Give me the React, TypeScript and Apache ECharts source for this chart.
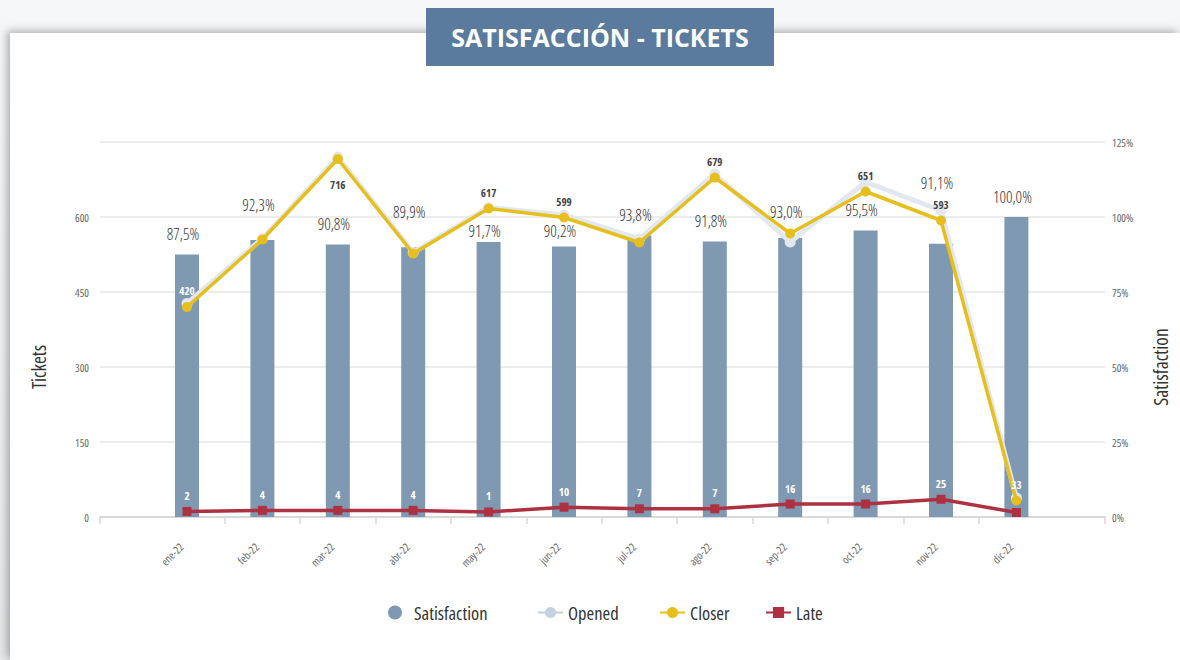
import React, { useEffect, useRef } from "react";
import * as echarts from "echarts";

// ---- data ----
const months = ["ene-22", "feb-22", "mar-22", "abr-22", "may-22", "jun-22", "jul-22", "ago-22", "sep-22", "oct-22", "nov-22", "dic-22"];
const satisfaction = [87.5, 92.3, 90.8, 89.9, 91.7, 90.2, 93.8, 91.8, 93.0, 95.5, 91.1, 100.0];
const opened = [427, 557, 720, 529, 619, 604, 556, 686, 550, 670, 613, 38];
const closer = [420, 555, 716, 527, 617, 599, 549, 679, 567, 651, 593, 33];
const late = [2, 4, 4, 4, 1, 10, 7, 7, 16, 16, 25, 0];

const ticketAxisMax = 750;
const ticketAxisStep = 150;
const satAxisMax = 125;
const satAxisStep = 25;

// label layout (not data)
const closerLabelHidden = ["feb-22", "abr-22", "jul-22", "sep-22"];
const closerLabelBelow = ["mar-22"];
const lateLabelHidden = ["dic-22"];
const satLabelNudge = [0, 14.5, 0, 14.5, -9.3, -5.5, 0, 0, 5.8, 0, 40.5, 0];

const FONT = "'Open Sans', sans-serif";
const C_BAR = "#7f99b3";
const C_OPEN = "#e2e8f0";
const C_CLOSE = "#e6bf1d";
const C_LATE = "#ad3140";

// plot geometry
const DATA_LEFT = 149.3;
const DATA_RIGHT_EDGE = 1054.1;
const BAND = (DATA_RIGHT_EDGE - DATA_LEFT) / months.length;

export default function App() {
  const ref = useRef<HTMLDivElement>(null);

  useEffect(() => {
    if (!ref.current) return;
    const chart = echarts.init(ref.current, null, { renderer: "svg" });

    const closerData = closer.map((v, i) => {
      const m = months[i];
      const below = closerLabelBelow.includes(m);
      const insideBar = !below && v + 34 < (satisfaction[i] / 100) * 600;
      return {
        value: v,
        label: {
          show: !closerLabelHidden.includes(m),
          position: below ? "bottom" : "top",
          distance: below ? 14 : 5,
          color: insideBar ? "#ffffff" : "#444444",
        },
      };
    });

    const lateData = late.map((v, i) => ({
      value: v,
      label: { show: !lateLabelHidden.includes(months[i]) },
    }));

    const satData = satisfaction.map((v, i) => ({
      value: v,
      label: { offset: [-4, -satLabelNudge[i]] },
    }));

    const legendBase = {
      top: 598,
      itemWidth: 25,
      itemHeight: 14,
      textStyle: { fontFamily: FONT, fontSize: 18.5, fontWeight: 400, color: "#333" },
      selectedMode: false,
    };

    const tickBoundaries = months.slice(1).map(() => "");

    const option: any = {
      animation: false,
      textStyle: { fontFamily: FONT },
      graphic: [
        {
          type: "rect",
          shape: { x: 426, y: 8, width: 348, height: 58 },
          style: { fill: "#5a7b9d" },
          z: 100,
        },
        {
          type: "text",
          x: 600,
          y: 37,
          style: {
            text: "SATISFACCIÓN - TICKETS",
            fill: "#ffffff",
            font: "bold 25px 'Open Sans', sans-serif",
            textAlign: "center",
            textVerticalAlign: "middle",
          },
          z: 101,
        },
      ],
      legend: [
        { ...legendBase, left: 383, itemWidth: 28, data: [{ name: "Satisfaction", icon: "circle" }] },
        { ...legendBase, left: 532, data: [{ name: "Opened", itemStyle: { color: "#c3d1e0" }, lineStyle: { color: "#c3d1e0" } }] },
        { ...legendBase, left: 654, data: ["Closer"] },
        { ...legendBase, left: 760, data: ["Late"] },
      ],
      grid: [
        { left: 100, right: 75, top: 142, bottom: 143 },
        { left: DATA_LEFT, right: 1180 - DATA_RIGHT_EDGE, top: 142, bottom: 143 },
        { left: DATA_LEFT + BAND, right: 1180 - (DATA_RIGHT_EDGE - BAND), top: 142, bottom: 143 },
      ],
      xAxis: [
        {
          gridIndex: 0,
          type: "value",
          min: 0,
          max: 1,
          interval: 1,
          axisLine: { show: true, lineStyle: { color: "#d8d8d8", width: 2 } },
          axisTick: { show: true, length: 7, lineStyle: { color: "#d8d8d8", width: 1.5 } },
          axisLabel: { show: false },
          splitLine: { show: false },
        },
        {
          gridIndex: 1,
          type: "category",
          data: months,
          axisLine: { show: false },
          axisTick: { show: false },
          axisLabel: { rotate: 45, fontSize: 11, color: "#666", margin: 22, padding: [0, 8, 0, 0], fontFamily: FONT },
        },
        {
          gridIndex: 2,
          type: "category",
          boundaryGap: false,
          data: tickBoundaries,
          axisLine: { show: false },
          axisTick: { show: true, length: 7, interval: 0, lineStyle: { color: "#d8d8d8", width: 1.5 } },
          axisLabel: { show: false },
        },
      ],
      yAxis: [
        {
          gridIndex: 0,
          type: "value",
          position: "left",
          min: 0,
          max: ticketAxisMax,
          interval: ticketAxisStep,
          name: "Tickets",
          nameLocation: "middle",
          nameGap: 52,
          nameTextStyle: { fontSize: 19, fontWeight: 400, color: "#333", fontFamily: FONT, padding: [0, 75, 0, 0] },
          axisLabel: { color: "#666", fontSize: 11, margin: 11, fontFamily: FONT, showMaxLabel: false },
          axisLine: { show: false },
          axisTick: { show: false },
          splitLine: { lineStyle: { color: "#ececec", width: 2 } },
        },
        {
          gridIndex: 0,
          type: "value",
          position: "right",
          min: 0,
          max: satAxisMax,
          interval: satAxisStep,
          name: "Satisfaction",
          nameLocation: "middle",
          nameGap: 42,
          nameTextStyle: { fontSize: 19.5, fontWeight: 400, color: "#333", fontFamily: FONT, padding: [0, 75, 0, 0] },
          axisLabel: { color: "#666", fontSize: 11, margin: 7, formatter: "{value}%", fontFamily: FONT },
          axisLine: { show: false },
          axisTick: { show: false },
          splitLine: { show: false },
        },
        { gridIndex: 1, type: "value", min: 0, max: ticketAxisMax, show: false },
        { gridIndex: 1, type: "value", min: 0, max: satAxisMax, show: false },
        { gridIndex: 1, type: "value", min: -8.5, max: 700, show: false },
        { gridIndex: 2, type: "value", min: 0, max: 1, show: false },
      ],
      series: [
        {
          name: "Satisfaction",
          type: "bar",
          xAxisIndex: 1,
          yAxisIndex: 3,
          barWidth: 24,
          itemStyle: { color: C_BAR },
          data: satData,
          z: 1,
          label: {
            show: true,
            position: "top",
            distance: 11.5,
            fontSize: 16,
            fontWeight: 350,
            lineHeight: 18,
            color: "#333",
            fontFamily: FONT,
            formatter: (p: any) => Number(p.value).toFixed(1).replace(".", ",") + "%",
          },
        },
        {
          name: "Opened",
          type: "line",
          xAxisIndex: 1,
          yAxisIndex: 2,
          symbol: "circle",
          symbolSize: 11,
          lineStyle: { color: C_OPEN, width: 5 },
          itemStyle: { color: C_OPEN },
          data: opened,
          z: 2,
        },
        {
          name: "Closer",
          type: "line",
          xAxisIndex: 1,
          yAxisIndex: 2,
          symbol: "circle",
          symbolSize: 10,
          lineStyle: { color: C_CLOSE, width: 3.5 },
          itemStyle: { color: C_CLOSE },
          data: closerData,
          z: 3,
          label: { fontSize: 11, fontWeight: "bold", fontFamily: FONT, lineHeight: 13 },
        },
        {
          name: "Late",
          type: "line",
          xAxisIndex: 1,
          yAxisIndex: 4,
          symbol: "rect",
          symbolSize: 9,
          lineStyle: { color: C_LATE, width: 3.5 },
          itemStyle: { color: C_LATE },
          data: lateData,
          z: 4,
          label: { show: true, position: "top", distance: 5, fontSize: 11, fontWeight: "bold", color: "#ffffff", fontFamily: FONT, lineHeight: 13 },
        },
      ],
    };

    chart.setOption(option);
    return () => chart.dispose();
  }, []);

  return (
    <div
      style={{
        position: "fixed",
        left: 0,
        top: 0,
        width: 1180,
        height: 660,
        overflow: "hidden",
        background: "linear-gradient(to bottom, #f6f7f8 0%, #eceef0 60%, #e6e7e8 100%)",
      }}
    >
      <style>{".resk-chart text { font-stretch: 75%; }"}</style>
      <div
        style={{
          position: "absolute",
          left: 10,
          top: 33,
          width: 1170,
          height: 627,
          background: "#ffffff",
          boxShadow: "-3px -2px 8px rgba(0,0,0,0.30)",
        }}
      />
      <div className="resk-chart" ref={ref} style={{ position: "absolute", left: 0, top: 0, width: 1180, height: 660 }} />
    </div>
  );
}
